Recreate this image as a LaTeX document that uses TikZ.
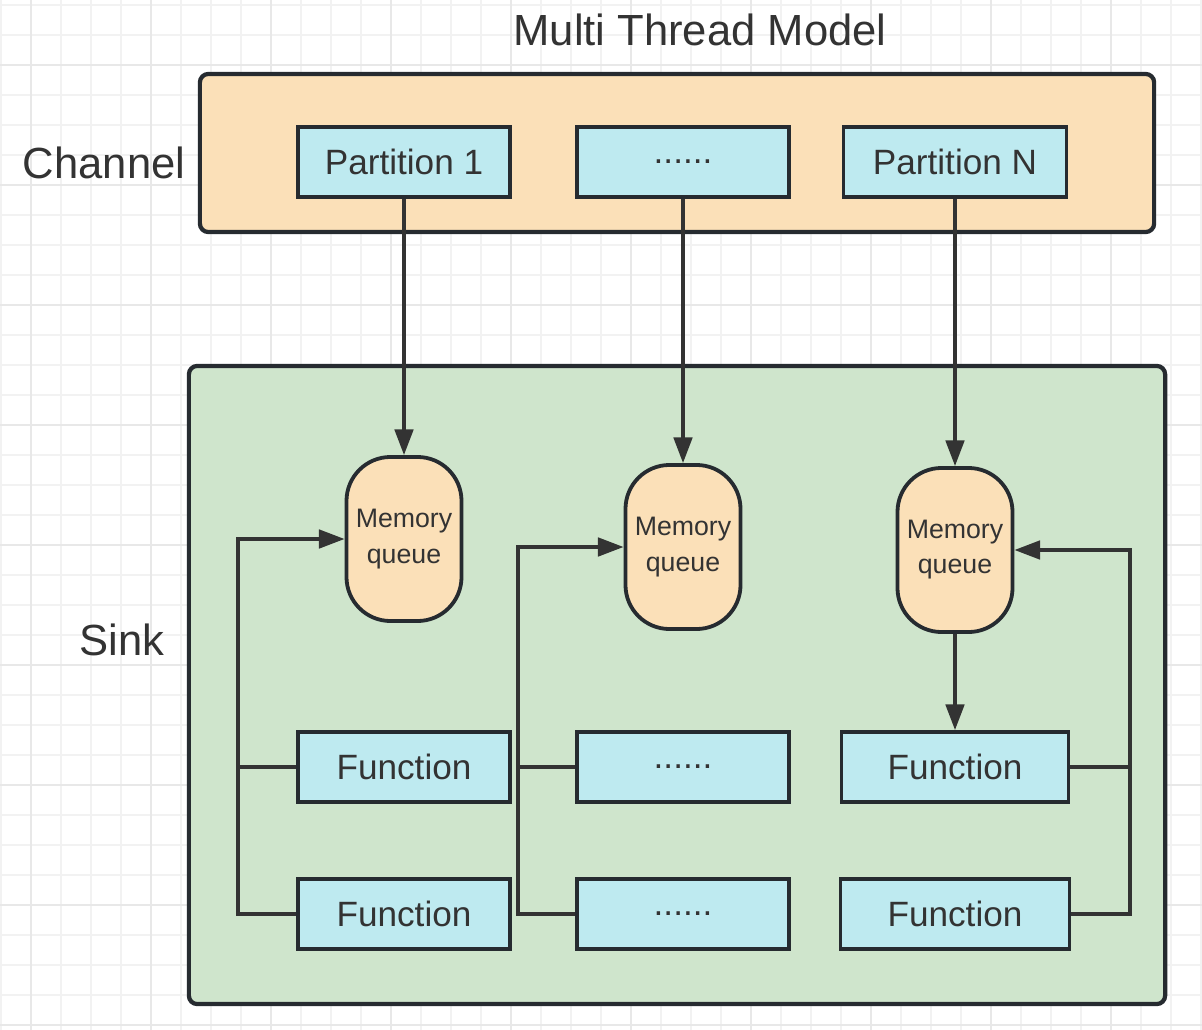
\documentclass[tikz,border=0pt]{standalone}
\usepackage{fontspec}
\setmainfont{Liberation Sans}
\usetikzlibrary{arrows.meta, positioning}
\definecolor{channelcolor}{RGB}{251, 224, 184}
\definecolor{sinkcolor}{RGB}{207, 229, 204}
\definecolor{boxcolor}{RGB}{190, 234, 240}
\definecolor{edgecolor}{RGB}{38, 43, 48}
\definecolor{inkcolor}{RGB}{51, 51, 51}
\definecolor{gridminor}{RGB}{242, 242, 242}
\definecolor{gridmajor}{RGB}{232, 232, 232}

\begin{document}
\begin{tikzpicture}[
    x=0.025cm, y=-0.025cm,
    container/.style={draw=edgecolor, line width=3pt, rounded corners=6pt},
    partbox/.style={draw=edgecolor, fill=boxcolor, line width=2.7pt, minimum width=5.3cm, minimum height=1.75cm, inner sep=0pt, font=\fontsize{25}{30}\selectfont, text=inkcolor},
    queue/.style={draw=edgecolor, fill=channelcolor, line width=2.7pt, rounded corners=1.1cm, minimum width=2.875cm, minimum height=4.1cm, inner sep=0pt, align=center, font=\fontsize{19}{25}\selectfont, text=inkcolor},
    heading/.style={font=\fontsize{31}{36}\selectfont, text=inkcolor},
    link/.style={draw=inkcolor, line width=2.5pt},
    flow/.style={link, -{Triangle[length=0.64cm, width=0.46cm]}},
]
    \useasboundingbox (0,0) rectangle (1202,1030);
    \fill[white] (0,0) rectangle (1202,1030);

    % Grid
    \foreach \gx in {1,31,...,1201} \draw[gridminor, line width=1pt] (\gx,0) -- (\gx,1030);
    \foreach \gy in {5,35,...,1025} \draw[gridminor, line width=1pt] (0,\gy) -- (1202,\gy);
    \foreach \gx in {31,151,...,1201} \draw[gridmajor, line width=1.3pt] (\gx,0) -- (\gx,1030);
    \foreach \gy in {65,185,...,1025} \draw[gridmajor, line width=1.3pt] (0,\gy) -- (1202,\gy);

    % Containers
    \node[heading] (title) at (700,30) {Multi Thread Model};
    \node[container, fill=channelcolor, minimum width=23.85cm, minimum height=3.95cm] (channel) at (677,153) {};
    \node[heading, anchor=west] (channeltext) at (18,163) {Channel};
    \node[container, fill=sinkcolor, minimum width=24.4cm, minimum height=15.95cm] (sink) at (677,685) {};
    \node[heading] (sinktext) at (122,640) {Sink};

    % Partitions
    \node[partbox] (part1) at (404,162) {Partition 1};
    \node[partbox] (partdots) at (683,162) {......};
    \node[partbox, minimum width=5.575cm] (partn) at (955,162) {Partition N};

    % Memory queues
    \node[queue] (queue1) at (404,539) {Memory\\queue};
    \node[queue] (queue2) at (683,547) {Memory\\queue};
    \node[queue] (queue3) at (955,550) {Memory\\queue};

    % Functions
    \node[partbox] (func1) at (404,767) {Function};
    \node[partbox] (funcdots1) at (683,767) {......};
    \node[partbox, minimum width=5.675cm] (func3) at (955,767) {Function};
    \node[partbox] (func4) at (404,914) {Function};
    \node[partbox] (funcdots2) at (683,914) {......};
    \node[partbox, minimum width=5.725cm] (func6) at (955,914) {Function};

    % Partition to queue
    \draw[flow] (part1.south) -- (queue1.north);
    \draw[flow] (partdots.south) -- (queue2.north);
    \draw[flow] (partn.south) -- (queue3.north);
    \draw[flow] (queue3.south) -- (func3.north);

    % Feedback to queues
    \coordinate (busleft) at (238,539);
    \draw[link] (func1.west) -- (func1.west -| busleft);
    \draw[flow] (func4.west) -- (func4.west -| busleft) |- (queue1.west);

    \coordinate (busmid) at (518,547);
    \draw[link] (funcdots1.west) -- (funcdots1.west -| busmid);
    \draw[flow] (funcdots2.west) -- (funcdots2.west -| busmid) |- (queue2.west);

    \coordinate (busright) at (1130,550);
    \draw[link] (func3.east) -- (func3.east -| busright);
    \draw[flow] (func6.east) -- (func6.east -| busright) |- (queue3.east);

\end{tikzpicture}
\end{document}
